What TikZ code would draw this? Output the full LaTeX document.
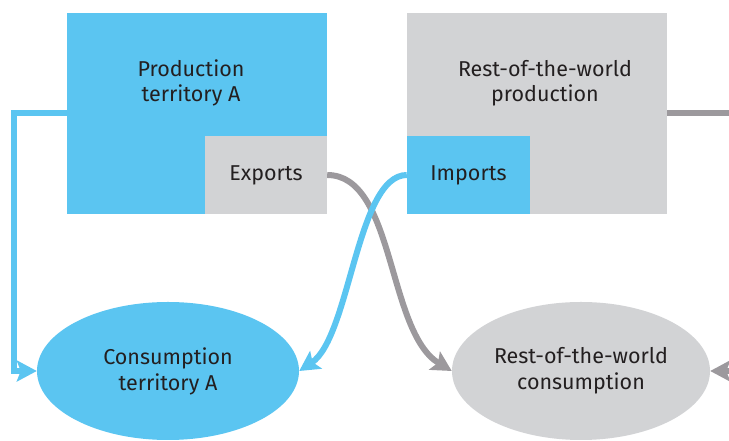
\documentclass[tikz,border=0pt]{standalone}
\usepackage{fontspec}
\setmainfont{Fira Sans}
\usepackage{tikz}
\usetikzlibrary{positioning,arrows.meta,shapes.geometric}
\definecolor{areablue}{HTML}{5BC5F1}
\definecolor{worldgrey}{HTML}{D2D3D5}
\definecolor{flowgrey}{HTML}{9C999D}
\definecolor{inktext}{HTML}{231F20}
\tikzset{
    on grid,
    node distance=3cm,
    x=1pt, y=1pt,
    block/.style = {
        shape=rectangle,
        inner sep=0pt,
        minimum width=260pt,
        minimum height=201pt
    },
    trade/.style = {
        shape=rectangle,
        inner sep=0pt,
        minimum width=122pt,
        minimum height=78pt,
        text=inktext,
        font=\fontsize{21.5}{25}\selectfont
    },
    sink/.style = {
        shape=ellipse,
        inner sep=0pt,
        minimum height=138pt,
        align=center,
        text=inktext,
        font=\fontsize{21.5}{26}\selectfont
    },
    caption/.style = {
        align=center,
        inner sep=0pt,
        text=inktext,
        font=\fontsize{21.5}{25}\selectfont
    },
    flow/.style = {
        line width=6pt
    },
    >={Stealth[length=20pt,width=21pt,inset=4pt]},
}
\begin{document}
\begin{tikzpicture}
    \useasboundingbox (0,0) rectangle (729,441);

    \node[block, fill=areablue] (prodA) at (197,327.5) {};
    \node[block, fill=worldgrey, right=340pt of prodA] (prodW) {};
    \node[caption, below=47pt of prodA.north, xshift=-6pt] (prodAtxt) {Production\\territory A};
    \node[caption, below=47pt of prodW.north, xshift=8pt] (prodWtxt) {Rest-of-the-world\\production};

    \node[trade, fill=worldgrey, anchor=south east] (exports) at (prodA.south east) {Exports};
    \node[trade, fill=areablue, minimum width=123pt, anchor=south west] (imports) at (prodW.south west) {Imports};

    \node[sink, fill=areablue, minimum width=262pt, below left=257.5pt and 29pt of prodA] (consA) {Consumption\\territory A};
    \node[sink, fill=worldgrey, minimum width=258pt, right=413pt of consA] (consW) {Rest-of-the-world\\consumption};

    %connect
    \draw[flow, flowgrey, ->] (prodW.east) -- ++(90,0) |- (consW.east);
    \draw[flow, flowgrey, ->] (exports.east) .. controls +(68,0) and +(-65,39) .. (consW.west);
    \draw[flow, areablue, ->] (prodA.west) -- ++(-52.5,0) |- (consA.west);
    \draw[flow, areablue, ->] (imports.west) .. controls +(-50,0) and +(51,34) .. (consA.east);

\end{tikzpicture}
\end{document}
